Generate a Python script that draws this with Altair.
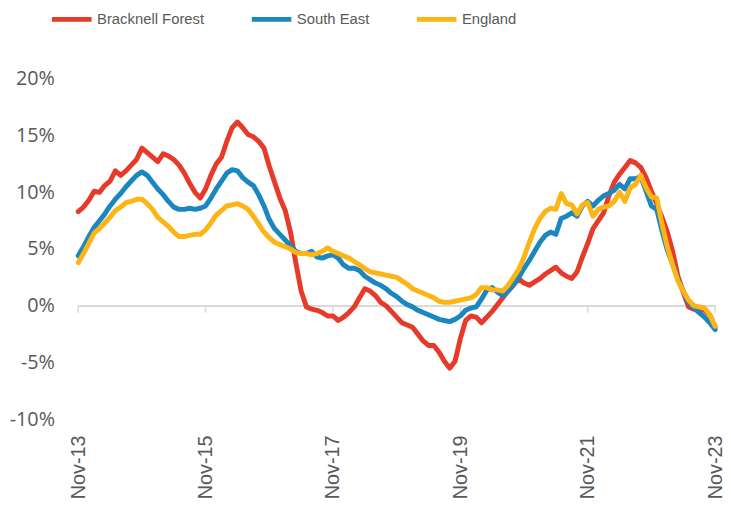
import altair as alt
import pandas as pd

series_names = ["Bracknell Forest", "South East", "England"]
series_colors = ["#E63A2B", "#1A87C0", "#FDB515"]

tick_positions = [0, 24, 48, 72, 96, 120]
tick_labels = ["Nov-13", "Nov-15", "Nov-17", "Nov-19", "Nov-21", "Nov-23"]
y_ticks = [-10, -5, 0, 5, 10, 15, 20]

bracknell = [
    8.3, 8.7, 9.3, 10.1, 10.0, 10.6, 11.0, 11.9, 11.5, 11.9, 12.4, 12.9,
    13.9, 13.5, 13.1, 12.7, 13.4, 13.2, 12.9, 12.4, 11.7, 10.8, 10.0, 9.5,
    10.3, 11.5, 12.5, 13.1, 14.5, 15.7, 16.2, 15.7, 15.1, 14.9, 14.5, 13.9,
    12.3, 10.9, 9.5, 8.4, 6.5, 3.8, 1.3, -0.1, -0.3, -0.4, -0.6, -0.9,
    -0.9, -1.3, -1.0, -0.6, -0.1, 0.7, 1.5, 1.3, 0.9, 0.3, 0.0, -0.5,
    -1.0, -1.5, -1.7, -1.9, -2.5, -3.1, -3.5, -3.5, -4.1, -4.9, -5.5, -4.9,
    -2.9, -1.3, -0.9, -1.0, -1.5, -1.0, -0.5, 0.1, 0.7, 1.3, 1.8, 2.4,
    2.0, 1.8, 2.1, 2.4, 2.8, 3.1, 3.4, 2.9, 2.6, 2.4, 3.0, 4.3,
    5.5, 6.8, 7.5, 8.2, 9.7, 10.9, 11.6, 12.2, 12.8, 12.6, 12.2, 11.3,
    10.1, 9.0, 7.8, 6.5, 4.8, 2.6, 1.2, -0.1, -0.3, -0.3, -0.4, -0.8,
    -1.9,
]

south_east = [
    4.4, 5.2, 6.1, 6.9, 7.5, 8.1, 8.8, 9.4, 9.9, 10.5, 11.0, 11.5,
    11.8, 11.5, 10.9, 10.3, 9.8, 9.2, 8.7, 8.5, 8.5, 8.6, 8.5, 8.6,
    8.8, 9.5, 10.3, 11.0, 11.7, 12.0, 11.9, 11.3, 10.9, 10.6, 9.8, 8.8,
    7.6, 6.8, 6.3, 5.8, 5.3, 4.8, 4.6, 4.6, 4.8, 4.3, 4.2, 4.4,
    4.5, 4.2, 3.6, 3.3, 3.3, 3.1, 2.6, 2.3, 2.0, 1.8, 1.5, 1.1,
    0.8, 0.4, 0.1, -0.1, -0.4, -0.6, -0.8, -1.0, -1.2, -1.3, -1.4, -1.2,
    -0.9, -0.4, -0.2, -0.1, 0.6, 1.4, 1.6, 1.2, 0.9, 1.3, 1.9, 2.5,
    3.3, 4.0, 4.8, 5.6, 6.2, 6.5, 6.3, 7.7, 7.9, 8.2, 7.9, 8.8,
    9.2, 8.8, 9.3, 9.7, 9.9, 10.2, 10.7, 10.3, 11.2, 11.2, 11.4, 10.1,
    8.8, 8.5, 6.6, 4.9, 3.7, 2.3, 1.3, 0.3, -0.2, -0.6, -1.0, -1.5,
    -2.1,
]

england = [
    3.8, 4.6, 5.5, 6.4, 6.8, 7.3, 7.8, 8.4, 8.7, 9.1, 9.2, 9.4,
    9.4, 9.0, 8.5, 7.8, 7.4, 7.0, 6.5, 6.1, 6.1, 6.2, 6.3, 6.3,
    6.7, 7.3, 8.0, 8.4, 8.8, 8.9, 9.0, 8.8, 8.5, 7.9, 7.2, 6.5,
    6.0, 5.6, 5.4, 5.2, 5.0, 4.7, 4.6, 4.6, 4.5, 4.6, 4.8, 5.1,
    4.8, 4.6, 4.4, 4.2, 3.9, 3.6, 3.3, 3.0, 2.9, 2.8, 2.7, 2.6,
    2.5, 2.2, 1.9, 1.5, 1.3, 1.1, 0.9, 0.7, 0.4, 0.3, 0.3, 0.4,
    0.5, 0.6, 0.7, 1.0, 1.6, 1.6, 1.4, 1.4, 1.3, 1.8, 2.5, 3.2,
    4.3, 5.6, 6.8, 7.7, 8.3, 8.6, 8.5, 9.9, 9.0, 8.9, 8.1, 8.9,
    9.1, 7.9, 8.5, 8.7, 8.8, 9.2, 10.0, 9.2, 10.4, 10.7, 11.5, 10.4,
    9.6, 9.5, 7.2, 5.2, 3.6, 2.2, 1.3, 0.5, 0.0, -0.1, -0.2, -0.8,
    -1.8,
]

rows = []
for name, vals in zip(series_names, [bracknell, south_east, england]):
    for i, v in enumerate(vals):
        rows.append({"month": i, "series": name, "value": v, "order": series_names.index(name)})
df = pd.DataFrame(rows)
ticks_df = pd.DataFrame({"month": tick_positions})

label_expr = "[" + ",".join("'" + t + "'" for t in tick_labels) + "][round(datum.value/24)]"

x_scale = alt.Scale(domain=[0, 120], nice=False, zero=False)
y_scale = alt.Scale(domain=[-10, 20], nice=False)

lines = alt.Chart(df).mark_line(strokeWidth=5, strokeCap="round", strokeJoin="round").encode(
    x=alt.X("month:Q", scale=x_scale, title=None,
            axis=alt.Axis(values=tick_positions, labelExpr=label_expr, labelAngle=270,
                          labelFlush=False, labelOverlap=False, ticks=False, domain=False,
                          grid=False, labelPadding=16, labelFont="Liberation Sans",
                          labelFontSize=20, labelColor="#595959")),
    y=alt.Y("value:Q", scale=y_scale, title=None,
            axis=alt.Axis(values=y_ticks, labelExpr="datum.value + '%'", ticks=False,
                          domain=False, grid=False, labelPadding=24, labelFont="Open Sans",
                          labelFontSize=20, labelColor="#595959")),
    color=alt.Color("series:N", scale=alt.Scale(domain=series_names, range=series_colors),
                    legend=alt.Legend(title=None, orient="none", legendX=-29, legendY=-83,
                                      direction="horizontal", symbolType="stroke",
                                      symbolStrokeWidth=5, symbolSize=1600,
                                      labelFont="Liberation Sans", labelFontSize=15,
                                      labelColor="#595959", labelOffset=3,
                                      columnPadding=37, padding=0)),
    order=alt.Order("order:Q"),
    detail="series:N",
)

zero = alt.Chart(ticks_df).mark_rule(color="#d9d9d9", strokeWidth=1.5).encode(
    y=alt.datum(0),
)

tick_marks = alt.Chart(ticks_df).mark_rule(color="#d9d9d9", strokeWidth=1.5, y2Offset=7).encode(
    x=alt.X("month:Q", scale=x_scale),
    y=alt.datum(0),
    y2=alt.datum(0),
)

chart = alt.layer(zero, tick_marks, lines).properties(
    width=644, height=344,
    autosize=alt.AutoSizeParams(type="none"),
    padding={"left": 71, "top": 69, "right": 8, "bottom": 80},
).configure_view(stroke=None)

chart.save("out.html", embed_options={"renderer": "svg", "actions": False})
